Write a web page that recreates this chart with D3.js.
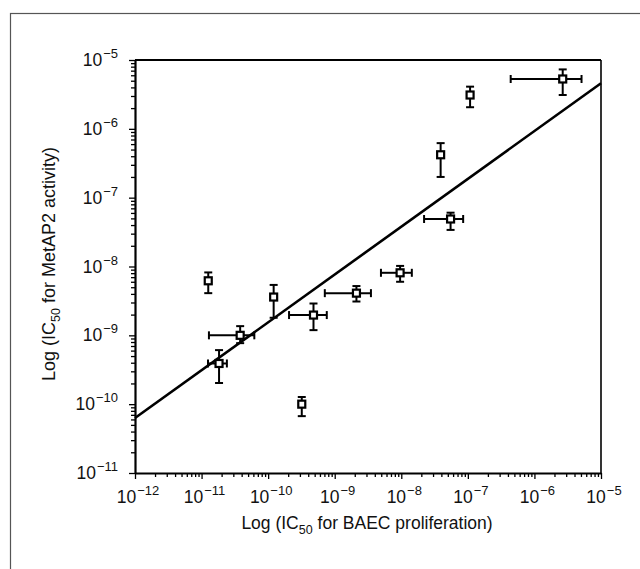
<!DOCTYPE html>
<html><head><meta charset="utf-8">
<script src="https://cdn.jsdelivr.net/npm/d3@7"></script>
<style>body{margin:0;background:#fff}svg{display:block}</style>
</head><body>
<svg id="c" width="640" height="569"></svg>
<script>
// Data
const xValues = [1.26e-11, 1.21e-10, 3.8e-11, 1.83e-11, 4.8e-10, 3.2e-10, 2.12e-9, 9.6e-9, 3.9e-8, 5.5e-8, 1.08e-7, 2.66e-6];
const yValues = [6.2e-9, 3.6e-9, 1.0e-9, 3.9e-10, 1.97e-9, 1.0e-10, 4.1e-9, 8.1e-9, 4.2e-7, 4.9e-8, 3.1e-6, 5.3e-6];
const xLow  = [null, null, 1.29e-11, 1.25e-11, 2.06e-10, null, 7.1e-10, 4.95e-9, null, 2.2e-8, null, 4.4e-7];
const xHigh = [null, null, 6.2e-11, 2.4e-11, 7.6e-10, null, 3.5e-9, 1.44e-8, null, 8.5e-8, null, 5.1e-6];
const yLow  = [4.1e-9, 1.8e-9, 7.7e-10, 2.03e-10, 1.19e-9, 6.7e-11, 3.1e-9, 6.0e-9, 2.0e-7, 3.4e-8, 2.06e-6, 3.1e-6];
const yHigh = [8.2e-9, 5.4e-9, 1.36e-9, 6.1e-10, 2.9e-9, 1.27e-10, 5.2e-9, 1.02e-8, 6.2e-7, 6.05e-8, 4.1e-6, 7.3e-6];
const fitX = [1e-12, 1e-5];
const fitY = [6.3e-11, 4.6e-6];
const xTickExps = [-12, -11, -10, -9, -8, -7, -6, -5];
const yTickExps = [-11, -10, -9, -8, -7, -6, -5];
const xTitle = ["Log (IC", "50", " for BAEC proliferation)"];
const yTitle = ["Log (IC", "50", " for MetAP2 activity)"];

const svg = d3.select("#c");
const FONT = "'Liberation Sans', Arial, Helvetica, sans-serif";
const L = 135, R = 601, T = 60, B = 473;

// outer frame
svg.append("rect").attr("x", 10.5).attr("y", 13.5).attr("width", 660).attr("height", 600)
  .attr("fill", "none").attr("stroke", "#555").attr("stroke-width", 1.2);

const x = d3.scaleLog().domain([1e-12, 1e-5]).range([L, R]);
const y = d3.scaleLog().domain([1e-11, 1e-5]).range([B, T]);

function logTicks(e0, e1) {
  const t = [];
  for (let e = e0; e < e1; e++) for (let m = 1; m < 10; m++) t.push(m * Math.pow(10, e));
  t.push(Math.pow(10, e1));
  return t;
}
const isMajor = v => Math.abs(Math.log10(v) - Math.round(Math.log10(v))) < 1e-6;

const gx = svg.append("g").attr("transform", `translate(0,${B})`)
  .call(d3.axisBottom(x).tickValues(logTicks(-12, -5)).tickFormat("").tickSizeOuter(0));
gx.selectAll(".tick line").attr("y2", d => isMajor(d) ? 6 : 4).attr("stroke-width", 1.3);
const gy = svg.append("g").attr("transform", `translate(${L},0)`)
  .call(d3.axisLeft(y).tickValues(logTicks(-11, -5)).tickFormat("").tickSizeOuter(0));
gy.selectAll(".tick line").attr("x2", d => isMajor(d) ? -6 : -4).attr("stroke-width", 1.3);
svg.selectAll(".domain").attr("stroke-width", 2.2);

// top and right frame of plot
svg.append("line").attr("x1", L).attr("x2", R).attr("y1", T).attr("y2", T).attr("stroke", "#000").attr("stroke-width", 2.2);
svg.append("line").attr("x1", R).attr("x2", R).attr("y1", T).attr("y2", B).attr("stroke", "#000").attr("stroke-width", 1.6);

// tick labels
function powLabel(sel, e) {
  sel.append("tspan").text("10");
  sel.append("tspan").attr("dx", 1).attr("dy", -8).attr("font-size", 13).text("\u2212" + Math.abs(e));
}
xTickExps.forEach(e => {
  const t = svg.append("text").attr("x", x(Math.pow(10, e)) + 3).attr("y", 503)
    .attr("text-anchor", "middle").attr("font-family", FONT).attr("font-size", 17.5).attr("fill", "#111");
  powLabel(t, e);
});
yTickExps.forEach(e => {
  const t = svg.append("text").attr("x", 118).attr("y", y(Math.pow(10, e)) + 6)
    .attr("text-anchor", "end").attr("font-family", FONT).attr("font-size", 17.5).attr("fill", "#111");
  powLabel(t, e);
});

// axis titles
function title(sel, parts) {
  sel.append("tspan").text(parts[0]);
  sel.append("tspan").attr("dy", 5).attr("font-size", 12.5).text(parts[1]);
  sel.append("tspan").attr("dy", -5).text(parts[2]);
}
title(svg.append("text").attr("x", 367).attr("y", 529).attr("text-anchor", "middle")
  .attr("font-family", FONT).attr("font-size", 17.5).attr("fill", "#111"), xTitle);
title(svg.append("text").attr("transform", "translate(55,264) rotate(-90)").attr("text-anchor", "middle")
  .attr("font-family", FONT).attr("font-size", 18).attr("fill", "#111"), yTitle);

// regression line
svg.append("path").datum(fitX.map((v, i) => [v, fitY[i]]))
  .attr("d", d3.line().x(d => x(d[0])).y(d => y(d[1])))
  .attr("fill", "none").attr("stroke", "#000").attr("stroke-width", 2.6);

// error bars and markers
const pts = xValues.map((v, i) => ({x: v, y: yValues[i], xl: xLow[i], xh: xHigh[i], yl: yLow[i], yh: yHigh[i]}));
const g = svg.append("g").attr("stroke", "#000").attr("stroke-width", 2);
const cap = 4;
pts.forEach(p => {
  const cx = x(p.x), cy = y(p.y);
  if (p.yl != null) {
    g.append("line").attr("x1", cx).attr("x2", cx).attr("y1", y(p.yl)).attr("y2", y(p.yh));
    [p.yl, p.yh].forEach(v => g.append("line").attr("x1", cx - cap).attr("x2", cx + cap).attr("y1", y(v)).attr("y2", y(v)));
  }
  if (p.xl != null) {
    g.append("line").attr("y1", cy).attr("y2", cy).attr("x1", x(p.xl)).attr("x2", x(p.xh));
    [p.xl, p.xh].forEach(v => g.append("line").attr("y1", cy - cap).attr("y2", cy + cap).attr("x1", x(v)).attr("x2", x(v)));
  }
});
svg.append("g").selectAll("rect").data(pts).join("rect")
  .attr("x", d => x(d.x) - 3.5).attr("y", d => y(d.y) - 3.5).attr("width", 7).attr("height", 7)
  .attr("fill", "#fff").attr("stroke", "#000").attr("stroke-width", 2.2);
</script>
</body></html>
